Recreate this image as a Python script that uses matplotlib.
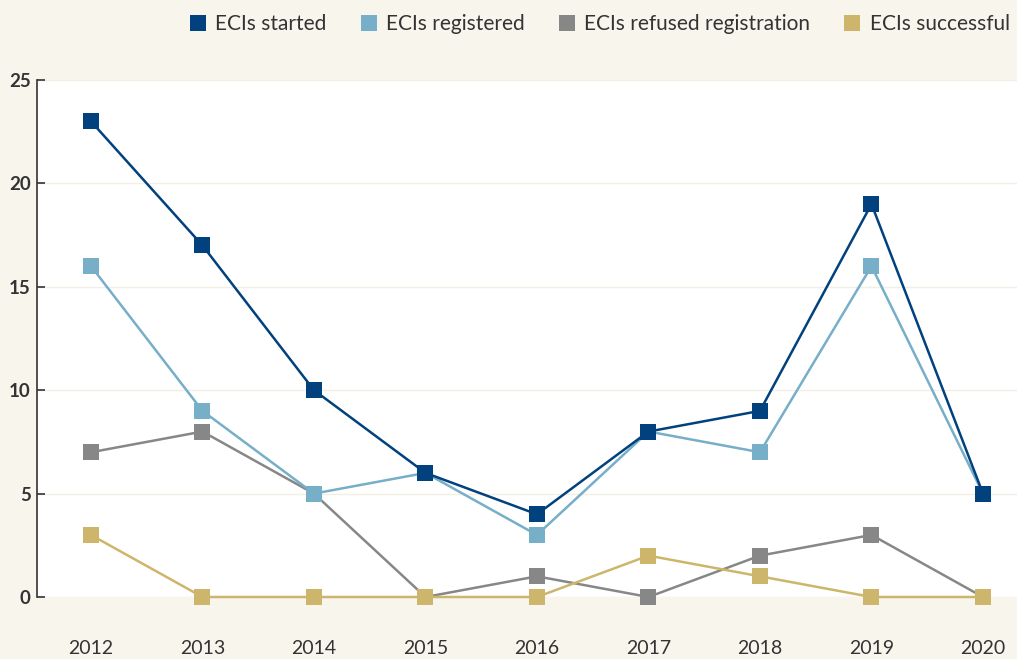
import matplotlib
matplotlib.use("Agg")
from matplotlib import pyplot as plt
from matplotlib.lines import Line2D

years = [2012, 2013, 2014, 2015, 2016, 2017, 2018, 2019, 2020]
started = [23, 17, 10, 6, 4, 8, 9, 19, 5]
registered = [16, 9, 5, 6, 3, 8, 7, 16, 5]
refused = [7, 8, 5, 0, 1, 0, 2, 3, 0]
successful = [3, 0, 0, 0, 0, 2, 1, 0, 0]

labels = ["ECIs started", "ECIs registered", "ECIs refused registration", "ECIs successful"]
colors = ["#00417e", "#77aec8", "#878787", "#cdb66b"]
bg = "#f8f5ec"

plt.rcParams['font.family'] = ['Lato', 'DejaVu Sans']

fig = plt.figure(figsize=(10.17, 6.59), dpi=100, facecolor=bg)
ax = fig.add_axes([37 / 1017, 62 / 659, 980 / 1017, 517 / 659])
ax.set_facecolor("white")

# draw order: refused, successful, registered, started (started on top)
series = [started, registered, refused, successful]
order = [2, 3, 1, 0]
for i in order:
    ax.plot(years, series[i], color=colors[i], lw=1.8, marker="s", ms=12.2,
            markeredgewidth=0, zorder=3 + order.index(i), clip_on=False)

ax.set_xlim(2011.516, 2020.305)
ax.set_ylim(0, 25)
ax.set_yticks([0, 5, 10, 15, 20, 25])
ax.set_xticks(years)
for s in ["top", "right", "bottom"]:
    ax.spines[s].set_visible(False)
ax.spines["left"].set_color("#333333")
ax.spines["left"].set_linewidth(1.2)
ax.tick_params(axis="y", direction="in", length=5.5, width=1.2, color="#333333",
               labelsize=13.5, labelcolor="#333333", pad=4.5)
for t in ax.get_yticklabels():
    t.set_fontweight("bold")
ax.tick_params(axis="x", length=0, labelsize=14, labelcolor="#333333", pad=31)
ax.grid(axis="y", color="#f3efe4", lw=1)
ax.set_axisbelow(True)

handles = [Line2D([], [], color=c, marker="s", ms=12.2, lw=0, markeredgewidth=0) for c in colors]
fig.legend(handles, labels, loc="upper right", bbox_to_anchor=(1.0, 0.99), ncol=4,
           frameon=False, fontsize=15, handlelength=0.75, handletextpad=0.45,
           columnspacing=1.65, labelcolor="#333333", borderaxespad=0.2, borderpad=0.15)

fig.savefig("out.png", dpi=100, facecolor=bg)
